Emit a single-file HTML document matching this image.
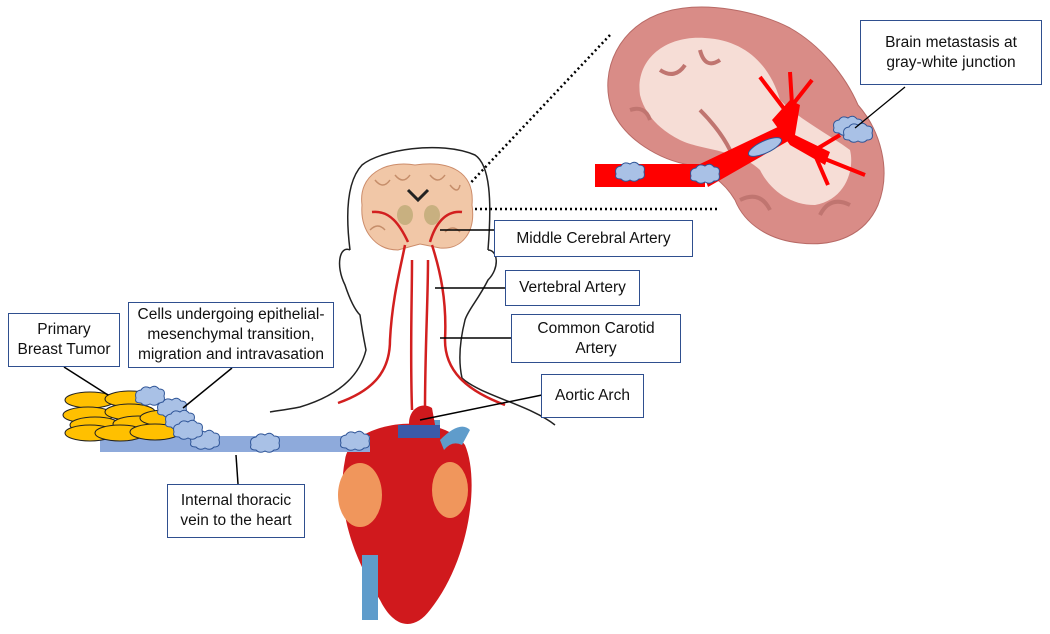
<!DOCTYPE html>
<html><head><meta charset="utf-8"><style>
body{margin:0;background:#fff;width:1050px;height:634px;overflow:hidden;font-family:"Liberation Sans",sans-serif}
.b{position:absolute;border:1.5px solid #2f4f8f;background:#fff;box-sizing:border-box;display:flex;align-items:center;justify-content:center;text-align:center;font-size:15.5px;line-height:20px;color:#111}
</style></head><body>
<svg width="1050" height="634" style="position:absolute;left:0;top:0">
<defs><g id="cl"><path d="M-14,0 q-2,-7 5,-8 q3,-5 9,-2 q5,-4 9,1 q7,0 5,7 q2,7 -5,7 q-4,4 -9,1 q-5,3 -9,-1 q-7,0 -5,-5z" fill="#a9c1e6" stroke="#2f5597" stroke-width="1"/></g></defs>
<!-- big brain -->
<path d="M612,110 C598,70 620,25 665,12 C705,0 760,12 790,28 C820,45 845,75 858,105 C880,130 892,170 878,205 C865,235 835,247 800,243 C770,240 745,225 735,200 C720,175 700,170 690,165 C660,160 625,140 612,110Z" fill="#d98c87" stroke="#b86a66"/>
<path d="M640,95 C635,60 665,35 705,38 C745,40 770,65 780,100 C800,120 830,135 850,150 C855,170 845,200 815,205 C790,205 770,190 760,170 C740,150 700,150 680,140 C660,130 645,115 640,95Z" fill="#f6ddd6"/>
<g fill="none" stroke="#c07570" stroke-width="4"><path d="M660,70 q15,10 25,-5 M700,50 q5,20 20,10 M630,110 q15,-5 20,10 M740,200 q20,-10 30,10 M820,215 q10,-20 30,-10 M700,110 q20,20 30,40"/></g>
<rect x="595" y="164" width="110" height="23" fill="#ff0000"/>
<polygon points="700,164 782,125 790,140 708,187" fill="#ff0000"/>
<polygon points="772,120 790,100 800,105 795,135 830,152 825,165 790,145" fill="#ff0000"/>
<g stroke="#ff0000" stroke-width="4"><line x1="785" y1="110" x2="760" y2="77"/><line x1="790" y1="108" x2="812" y2="80"/><line x1="792" y1="104" x2="790" y2="72"/><line x1="815" y1="155" x2="865" y2="175"/><line x1="815" y1="155" x2="828" y2="185"/><line x1="815" y1="150" x2="840" y2="135"/></g>
<use href="#cl" x="630" y="174"/><use href="#cl" x="705" y="176"/><ellipse cx="765" cy="147" rx="18" ry="6" fill="#a9c1e6" stroke="#2f5597" transform="rotate(-25 765 147)"/>
<use href="#cl" x="848" y="128"/><use href="#cl" x="858" y="135"/>
<line x1="905" y1="87" x2="855" y2="128" stroke="#000" stroke-width="1.3"/>
<!-- dotted lines -->
<line x1="610" y1="35" x2="445" y2="210" stroke="#000" stroke-width="2.5" stroke-dasharray="2,3"/>
<line x1="450" y1="209" x2="720" y2="209" stroke="#000" stroke-width="2.5" stroke-dasharray="2,3"/>
<!-- head -->
<g fill="none" stroke="#222" stroke-width="1.5">
<path d="M350,250 C345,210 348,180 362,165 C380,150 440,140 475,155 C490,165 492,200 488,250"/>
<path d="M350,250 C340,245 335,265 345,285 C350,300 355,310 360,315 C362,330 364,340 366,350 C360,375 340,395 300,407 C285,410 275,411 270,412"/>
<path d="M488,250 C498,250 500,268 488,280 C478,300 468,310 465,320 C460,340 458,360 462,378 C480,395 530,405 555,425"/>
</g>
<!-- small brain -->
<path d="M362,205 C358,175 385,160 415,165 C450,160 475,172 472,205 C476,232 462,250 440,248 L420,244 L398,250 C375,250 360,230 362,205Z" fill="#f1c7a7" stroke="#cc8c6a"/>
<g fill="none" stroke="#c58d6a" stroke-width="1.5"><path d="M375,180 q8,10 15,0 M395,175 q8,10 15,0 M430,175 q8,10 15,0 M450,185 q8,10 10,0 M370,230 q8,-8 15,0 M445,232 q8,-8 15,0"/></g>
<ellipse cx="405" cy="215" rx="8" ry="10" fill="#c8b080"/><ellipse cx="432" cy="215" rx="8" ry="10" fill="#c8b080"/>
<path d="M408,190 l10,10 l10,-10" fill="none" stroke="#222" stroke-width="3"/>
<g fill="none" stroke="#d21f1f" stroke-width="2.5">
<path d="M405,245 C400,270 392,300 390,340 C390,370 375,390 338,403"/>
<path d="M432,245 C440,270 447,300 445,340 C445,370 465,390 505,405"/>
<path d="M412,260 C412,300 410,350 412,410"/><path d="M428,260 C428,300 425,350 425,410"/>
<path d="M372,212 C390,210 400,225 408,242 M462,212 C445,210 435,225 430,242"/>
</g>
<!-- heart -->
<rect x="420" y="420" width="20" height="40" fill="#5f9ccb"/>
<path d="M345,460 C350,420 440,410 465,445 C480,480 470,560 430,610 C415,630 395,630 380,600 C355,560 335,510 345,460Z" fill="#d0191d"/>
<path d="M410,430 C405,412 420,400 432,408 L436,430Z" fill="#d0191d"/>
<path d="M440,440 q20,-20 30,-10 l-8,15 q-10,-5 -18,5z" fill="#5f9ccb"/>
<rect x="362" y="555" width="16" height="65" fill="#5f9ccb"/>
<ellipse cx="360" cy="495" rx="22" ry="32" fill="#f0965c"/><ellipse cx="450" cy="490" rx="18" ry="28" fill="#f0965c"/>
<rect x="398" y="425" width="42" height="13" fill="#3b5aa8"/>
<!-- vein -->
<rect x="100" y="436" width="270" height="16" fill="#8eaadb"/>
<use href="#cl" x="205" y="442"/><use href="#cl" x="265" y="445"/><use href="#cl" x="355" y="443"/>
<!-- tumor -->
<g fill="#ffc000" stroke="#222" stroke-width="1">
<ellipse cx="90" cy="400" rx="25" ry="8"/><ellipse cx="130" cy="399" rx="25" ry="8"/>
<ellipse cx="88" cy="415" rx="25" ry="8"/><ellipse cx="130" cy="412" rx="25" ry="8"/>
<ellipse cx="95" cy="425" rx="25" ry="8"/><ellipse cx="138" cy="424" rx="25" ry="8"/><ellipse cx="165" cy="418" rx="25" ry="8"/>
<ellipse cx="90" cy="433" rx="25" ry="8"/><ellipse cx="120" cy="433" rx="25" ry="8"/><ellipse cx="155" cy="432" rx="25" ry="8"/></g>
<use href="#cl" x="150" y="398"/><use href="#cl" x="172" y="410"/><use href="#cl" x="180" y="422"/><use href="#cl" x="188" y="432"/>
<!-- leaders -->
<g stroke="#000" stroke-width="1.5" fill="none">
<line x1="64" y1="367" x2="108" y2="395"/><line x1="232" y1="368" x2="183" y2="408"/>
<line x1="236" y1="455" x2="238" y2="484"/>
<line x1="440" y1="230" x2="495" y2="230"/><line x1="435" y1="288" x2="505" y2="288"/><line x1="440" y1="338" x2="512" y2="338"/><line x1="420" y1="420" x2="542" y2="395"/>
</g>
</svg>
<div class="b" style="left:8px;top:313px;width:112px;height:54px">Primary<br>Breast Tumor</div>
<div class="b" style="left:128px;top:302px;width:206px;height:66px">Cells undergoing epithelial-<br>mesenchymal transition,<br>migration and intravasation</div>
<div class="b" style="left:494px;top:220px;width:199px;height:37px">Middle Cerebral Artery</div>
<div class="b" style="left:505px;top:270px;width:135px;height:36px">Vertebral Artery</div>
<div class="b" style="left:511px;top:314px;width:170px;height:49px">Common Carotid<br>Artery</div>
<div class="b" style="left:541px;top:374px;width:103px;height:44px">Aortic Arch</div>
<div class="b" style="left:167px;top:484px;width:138px;height:54px">Internal thoracic<br>vein to the heart</div>
<div class="b" style="left:860px;top:20px;width:182px;height:65px">Brain metastasis at<br>gray-white junction</div>
</body></html>
